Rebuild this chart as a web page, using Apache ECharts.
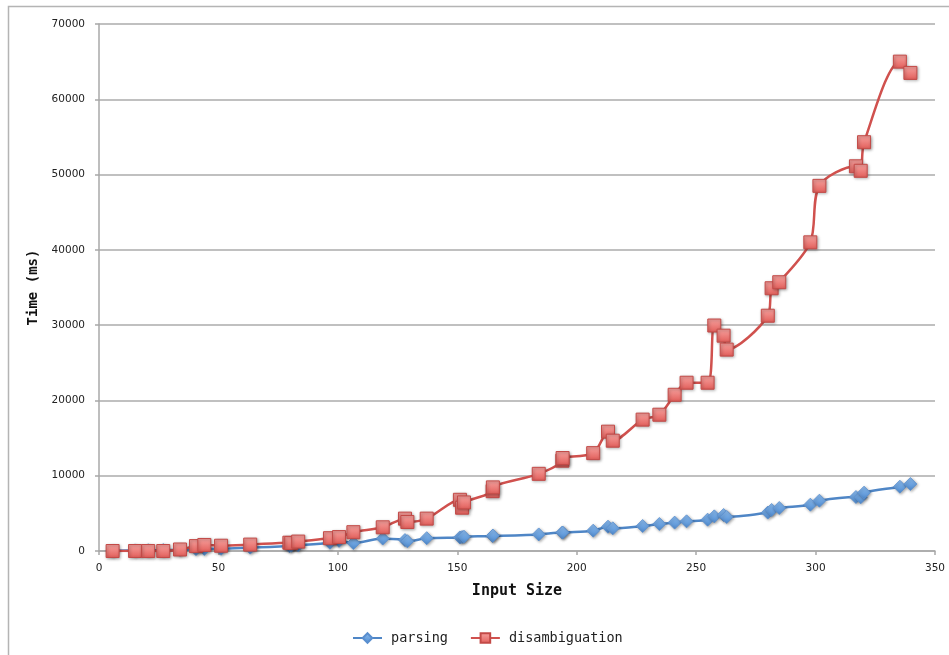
<!DOCTYPE html>
<html>
<head>
<meta charset="utf-8">
<script src="https://cdn.jsdelivr.net/npm/echarts@6/dist/echarts.min.js"></script>
<style>
html,body{margin:0;padding:0;background:#fff;}
#chart{width:949px;height:655px;}
</style>
</head>
<body>
<div id="chart"></div>
<script>
var inputSizes = [5.7, 15.1, 20.6, 26.9, 33.9, 40.6, 44.1, 51.1, 63.3, 79.7, 80.5, 83.4, 96.7, 100.5, 106.5, 118.8, 128.1, 129.1, 137.2, 151.1, 152.0, 152.8, 164.8, 164.9, 184.1, 194.0, 194.1, 206.9, 213.1, 215.1, 227.6, 234.6, 241.0, 246.0, 254.8, 257.6, 261.5, 262.8, 280.0, 281.6, 284.8, 297.8, 301.6, 316.9, 318.9, 320.3, 335.3, 339.7];
var parsing = [20, 80, 100, 120, 150, 250, 280, 300, 450, 650, 700, 750, 1100, 1350, 1050, 1650, 1450, 1300, 1700, 1800, 1850, 1900, 2000, 2050, 2200, 2450, 2450, 2700, 3230, 3010, 3320, 3590, 3770, 3940, 4160, 4600, 4780, 4520, 5100, 5450, 5710, 6150, 6680, 7170, 7130, 7750, 8540, 8900];
var disambiguation = [0, 0, 0, 0, 200, 650, 800, 700, 850, 1100, 1050, 1250, 1700, 1850, 2500, 3150, 4300, 3850, 4300, 6800, 5750, 6450, 7950, 8450, 10250, 12000, 12350, 13000, 15850, 14650, 17450, 18100, 20750, 22350, 22350, 29950, 28600, 26750, 31250, 34900, 35700, 41000, 48500, 51100, 50500, 54300, 65000, 63500];
var seriesNames = ['parsing', 'disambiguation'];
var xTitle = 'Input Size';
var yTitle = 'Time (ms)';

function zip(xs, ys) { return xs.map(function (x, i) { return [x, ys[i]]; }); }

var chart = echarts.init(document.getElementById('chart'), null, {renderer: 'canvas'});
var labelFont = {color: '#222', fontFamily: 'DejaVu Sans', fontSize: 10.5};
var shadow = {shadowBlur: 3, shadowColor: 'rgba(0,0,0,0.35)', shadowOffsetX: 1, shadowOffsetY: 1};

chart.setOption({
  animation: false,
  backgroundColor: '#fff',
  graphic: [{
    type: 'rect', left: 6, top: 4, silent: true,
    shape: {width: 1000, height: 700},
    style: {fill: 'none', stroke: '#b4b4b4', lineWidth: 1.5}
  }],
  grid: {left: 99, right: 14, top: 24, bottom: 104, containLabel: false},
  legend: {
    left: 347, top: 626,
    itemWidth: 29, itemHeight: 12, itemGap: 22,
    textStyle: {fontFamily: 'DejaVu Sans Mono', fontSize: 13.5, color: '#222', padding: [0, 0, 0, 4]},
    data: seriesNames
  },
  xAxis: {
    type: 'value', min: 0, max: 350, interval: 50,
    name: xTitle, nameLocation: 'middle', nameGap: 33,
    nameTextStyle: {fontFamily: 'DejaVu Sans Mono', fontWeight: 'bold', fontSize: 15, color: '#111'},
    axisLine: {show: true, onZero: false, lineStyle: {color: '#a8a8a8', width: 1.5}},
    axisTick: {show: true, length: 4, lineStyle: {color: '#a8a8a8', width: 1.5}},
    axisLabel: Object.assign({margin: 12, formatter: function (v) { return String(v); }}, labelFont),
    splitLine: {show: false}
  },
  yAxis: {
    type: 'value', min: 0, max: 70000, interval: 10000,
    name: yTitle, nameLocation: 'middle', nameGap: 47, nameRotate: 90,
    nameTextStyle: {fontFamily: 'DejaVu Sans Mono', fontWeight: 'bold', fontSize: 14, color: '#111'},
    axisLine: {show: true, lineStyle: {color: '#a8a8a8', width: 1.5}},
    axisTick: {show: true, length: 4, lineStyle: {color: '#a8a8a8', width: 1.5}},
    axisLabel: Object.assign({margin: 14, formatter: function (v) { return String(v); }}, labelFont),
    splitLine: {show: true, lineStyle: {color: '#ababab', width: 1.5}}
  },
  series: [{
    name: seriesNames[0], type: 'line', data: zip(inputSizes, parsing),
    smooth: 0.3,
    symbol: 'diamond', symbolSize: [13, 13],
    lineStyle: {color: '#4f86c6', width: 2.5},
    itemStyle: Object.assign({
      color: new echarts.graphic.LinearGradient(0, 0, 0, 1, [{offset: 0, color: '#8cbcef'}, {offset: 1, color: '#4f8bd0'}]),
      borderColor: '#5a8fcf', borderWidth: 0.8
    }, shadow),
    z: 2
  }, {
    name: seriesNames[1], type: 'line', data: zip(inputSizes, disambiguation),
    smooth: 0.3,
    symbol: 'rect', symbolSize: 13,
    lineStyle: {color: '#d0514e', width: 2.5},
    itemStyle: Object.assign({
      color: new echarts.graphic.LinearGradient(0, 0, 0, 1, [{offset: 0, color: '#f7a3a0'}, {offset: 1, color: '#e25e5a'}]),
      borderColor: '#c34a47', borderWidth: 1
    }, shadow),
    z: 3
  }]
});
</script>
</body>
</html>
